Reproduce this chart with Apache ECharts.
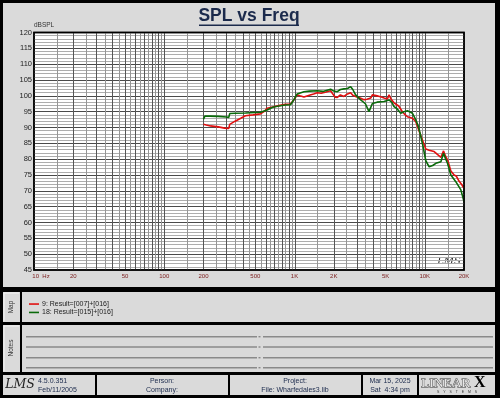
<!DOCTYPE html>
<html>
<head>
<meta charset="utf-8">
<script src="https://cdn.jsdelivr.net/npm/echarts@6/dist/echarts.min.js"></script>
<style>html,body{margin:0;padding:0;background:#dadada;}#c{width:500px;height:398px;}</style>
</head>
<body>
<div id="c"></div>
<script>
// ---- data ----
const redName = '9: Result=[007]+[016]';
const greenName = '18: Result=[015]+[016]';
const redFreq = [200,210,226,260,290,313,318,350,390,420,480,548,590,616,680,757,850,931,980,1049,1100,1181,1300,1400,1496,1600,1750,1892,1950,2050,2130,2250,2395,2550,2697,2800,2944,3034,3221,3415,3600,3844,3960,4076,4400,4590,4868,5166,5314,5500,5804,5980,6300,6735,7000,7358,8041,8531,8790,9310,9700,10180,10800,11800,12500,13290,13930,14400,14950,15850,16800,17500,18360,19200,20000];
const redDb   = [91.0,90.8,90.5,90.2,89.8,89.7,91.0,92.0,93.0,93.7,94.0,94.3,95.2,96.1,96.5,96.9,97.3,97.4,98.5,100.3,100.0,99.6,100.2,100.6,101.0,100.8,101.2,101.6,100.8,99.6,99.5,100.3,99.8,100.6,101.0,100.2,99.8,99.7,99.2,98.8,98.9,99.3,100.3,100.2,99.9,99.7,99.3,99.0,100.3,99.0,97.8,97.6,96.8,95.0,94.2,93.4,92.9,91.8,90.3,87.5,85.5,83.2,82.8,82.4,81.5,80.6,82.6,81.0,79.8,76.3,75.0,74.6,73.0,72.0,70.8];
const greenFreq = [200,205,226,260,300,313,318,350,420,548,616,680,757,850,931,980,1049,1181,1300,1496,1650,1892,2000,2130,2250,2395,2550,2697,2800,2944,3221,3500,3730,3844,3960,4300,4868,5314,5600,5804,6100,6537,6900,7358,8041,8531,8900,9310,9700,10180,10800,11500,12160,13290,13930,14400,14950,15850,17300,18920,20000];
const greenDb   = [92.6,93.6,93.6,93.5,93.3,93.2,94.4,94.5,94.6,94.8,95.5,96.4,96.8,97.1,97.2,98.5,100.6,101.3,101.5,101.6,101.4,102.1,101.5,101.3,102.0,102.2,102.3,102.9,102.0,100.3,98.7,97.5,95.0,95.6,97.6,98.0,98.2,98.7,97.9,96.6,96.0,94.5,95.0,95.3,94.5,92.4,90.5,87.3,84.0,79.5,77.6,78.0,78.7,79.2,81.9,80.2,78.7,75.0,72.9,70.3,66.6];
const xTickFreqs  = [10,20,50,100,200,500,1000,2000,5000,10000,20000];
const xTickLabels = ['10  Hz','20','50','100','200','500','1K','2K','5K','10K','20K'];
const gridDecades = [10,100,1000,10000];
const gridMults = [1,1.5,2,2.5,3,3.5,4,4.5,5,5.5,6,6.5,7,7.5,8,8.5,9,9.5];
const yMin = 45, yMax = 120, yStep = 5;
const fMin = 10, fMax = 20000;

// ---- build ----
const L = Math.log10;
const FONT = '"Liberation Sans", Arial, sans-serif';
const NAVY = '#1b2a4c';
const gridLines = [];
gridDecades.forEach(d => gridMults.forEach(m => {
  const f = d * m;
  if (f > fMin && f < fMax) gridLines.push([L(f), 80, Number.isInteger(m) ? 1 : 0]);
}));
const toPts = (fs, vs) => fs.map((f, i) => [L(f), vs[i]]);

const chart = echarts.init(document.getElementById('c'), null, {renderer: 'canvas'});

function txt(x, y, text, opt) {
  return Object.assign({type: 'text', x: x, y: y, silent: true,
    style: Object.assign({text: text, fill: NAVY, font: '7px ' + FONT, textAlign: 'left', textVerticalAlign: 'middle'}, opt || {})});
}
function box(x, y, w, h, fill, z) {
  return {type: 'rect', silent: true, z: z || 1, shape: {x: x, y: y, width: w, height: h}, style: {fill: fill}};
}
function ln(x1, y1, x2, y2, stroke, w, z) {
  return {type: 'line', silent: true, z: z || 1, shape: {x1: x1, y1: y1, x2: x2, y2: y2}, style: {stroke: stroke, lineWidth: w}};
}

const graphics = [
  // frame
  box(0, 0, 3, 398, '#000'), box(0, 0, 500, 3, '#000'), box(495, 0, 5, 398, '#000'), box(0, 395, 500, 3, '#000'),
  box(0, 287, 500, 5, '#000'), box(0, 322, 500, 3, '#000'), box(0, 372, 500, 3, '#000'),
  box(20, 292, 2, 80, '#000'),
  ln(4, 293, 19, 293, '#f4f4f4', 1), ln(4, 293, 4, 321, '#f4f4f4', 1),
  ln(4, 326, 19, 326, '#f4f4f4', 1), ln(4, 326, 4, 371, '#f4f4f4', 1),
  // footer dividers
  box(95, 375, 2, 20, '#000'), box(228, 375, 2, 20, '#000'), box(361, 375, 2, 20, '#000'), box(417, 375, 2, 20, '#000'),
  // title
  txt(249, 16.6, 'SPL vs Freq', {font: 'bold 17.5px ' + FONT, textAlign: 'center', fill: NAVY}),
  ln(199, 25.2, 299, 25.2, NAVY, 1.6),
  // plot border
  {type: 'rect', silent: true, z: 50, shape: {x: 34, y: 32.5, width: 430, height: 237.5}, style: {fill: null, stroke: '#000', lineWidth: 1.5}},
  txt(449, 261, 'LMS', {font: 'italic 10px "DejaVu Serif", serif', textAlign: 'center', fill: '#222'}),
  // side labels
  Object.assign(txt(11.5, 307, 'Map', {font: '6.5px ' + FONT, textAlign: 'center', fill: '#333'}), {rotation: Math.PI / 2}),
  Object.assign(txt(11.5, 348, 'Notes', {font: '6.5px ' + FONT, textAlign: 'center', fill: '#333'}), {rotation: Math.PI / 2}),
  // footer text
  txt(20, 385, 'LMS', {font: 'italic 12.5px "DejaVu Serif", serif', textAlign: 'center', fill: '#222'}),
  txt(38, 381, '4.5.0.351'), txt(38, 390, 'Feb/11/2005'),
  txt(162, 381, 'Person:', {textAlign: 'center'}), txt(162, 390, 'Company:', {textAlign: 'center'}),
  txt(295, 381, 'Project:', {textAlign: 'center'}), txt(295, 390, 'File: Wharfedales3.lib', {textAlign: 'center'}),
  txt(390, 381, 'Mar 15, 2025', {textAlign: 'center'}), txt(390, 390, 'Sat  4:34 pm', {textAlign: 'center'}),
  txt(421, 383, 'LINEAR', {font: '13.5px "Liberation Serif", serif', fill: '#e8e8e8', stroke: '#333', lineWidth: 0.8}),
  txt(474, 383, 'X', {font: 'bold 16px "Liberation Serif", serif', fill: '#000'}),
  txt(457, 392, 'S    Y    S    T    E    M    S', {font: '3.5px ' + FONT, textAlign: 'center', fill: '#333'})
];
// notes lines
[336.7, 347, 357.7, 367.7].forEach(y => {
  graphics.push(ln(26, y, 257, y, '#8a8a8a', 1.4));
  graphics.push(ln(258.5, y, 260.5, y, '#8a8a8a', 1.4));
  graphics.push(ln(263, y, 493, y, '#8a8a8a', 1.4));
});

const option = {
  animation: false,
  backgroundColor: '#dadada',
  textStyle: {fontFamily: FONT},
  grid: {left: 34, top: 32.5, width: 430, height: 237.5, show: true, backgroundColor: '#fff', borderColor: '#000', borderWidth: 1.5},
  legend: {
    left: 24, top: 295.2, orient: 'vertical', itemWidth: 10, itemHeight: 1.6, itemGap: 0.7,
    icon: 'rect', selectedMode: false,
    data: [{name: redName, itemStyle: {color: '#e01010'}}, {name: greenName, itemStyle: {color: '#0a6a0a'}}],
    textStyle: {fontSize: 7, color: '#222', lineHeight: 7.7, padding: [0, 0, 0, -2]}
  },
  xAxis: {
    type: 'value', min: L(fMin), max: L(fMax),
    axisLine: {show: false}, axisTick: {show: false}, splitLine: {show: false},
    axisLabel: {
      customValues: xTickFreqs.map(L), fontSize: 6, color: '#7a1a1a', margin: 3, hideOverlap: false,
      showMinLabel: true, showMaxLabel: true,
      formatter: v => {
        let best = 0;
        xTickFreqs.forEach((f, i) => { if (Math.abs(L(f) - v) < Math.abs(L(xTickFreqs[best]) - v)) best = i; });
        return best === 0 ? '{h|' + xTickLabels[0] + '}' : xTickLabels[best];
      },
      rich: {h: {fontSize: 6, color: '#7a1a1a', padding: [0, 0, 0, 14]}}
    }
  },
  yAxis: {
    type: 'value', min: yMin, max: yMax, interval: yStep,
    name: 'dBSPL', nameLocation: 'end', nameGap: 2,
    nameTextStyle: {fontSize: 6.5, color: '#333', align: 'left', verticalAlign: 'bottom', padding: [0, 0, 0, 0]},
    axisLine: {show: false}, axisTick: {show: false},
    axisLabel: {fontSize: 7.5, color: '#222', margin: 2},
    splitLine: {show: true, lineStyle: {color: '#4a4a4a', width: 1}},
    minorTick: {show: false, splitNumber: 5},
    minorSplitLine: {show: true, lineStyle: {color: '#adadad', width: 1}}
  },
  series: [
    {
      type: 'custom', silent: true, z: 1, data: gridLines,
      renderItem: (params, api) => {
        const x = api.value(0), major = api.value(2);
        const p1 = api.coord([x, yMax]), p2 = api.coord([x, yMin]);
        const px = Math.round(p1[0]) + 0.5;
        return {type: 'line', shape: {x1: px, y1: p1[1], x2: px, y2: p2[1]},
          style: {stroke: major ? '#555' : '#959595', lineWidth: 1}};
      }
    },
    {name: redName, type: 'line', z: 3, symbol: 'none', data: toPts(redFreq, redDb),
      lineStyle: {color: '#e01010', width: 1.6}, itemStyle: {color: '#e01010'}},
    {name: greenName, type: 'line', z: 4, symbol: 'none', data: toPts(greenFreq, greenDb),
      lineStyle: {color: '#0a6a0a', width: 1.6}, itemStyle: {color: '#0a6a0a'}}
  ],
  graphic: {elements: graphics}
};
chart.setOption(option);
</script>
</body>
</html>
